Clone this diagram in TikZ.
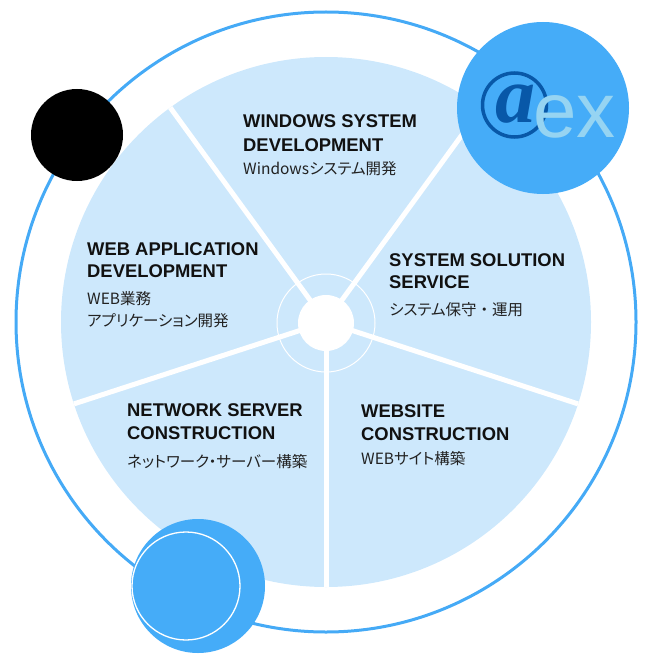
\documentclass[tikz,border=0pt]{standalone}
\usepackage{fontspec}
\usetikzlibrary{calc}
\setmainfont{Liberation Sans}
\newfontfamily\jpfont[RawFeature=+palt]{Noto Sans CJK JP}
\newfontfamily\jpfull{Noto Sans CJK JP}
\newfontfamily\logoserif{Liberation Serif}
\definecolor{ringblue}{RGB}{69,170,246}
\definecolor{pieblue}{RGB}{205,232,252}
\definecolor{dotblue}{RGB}{69,172,248}
\definecolor{logodark}{RGB}{8,88,168}
\definecolor{logolight}{RGB}{150,212,242}
\definecolor{titletext}{RGB}{17,17,17}
\definecolor{subtext}{RGB}{34,34,34}
\tikzset{
  ttl/.style={anchor=base west, inner sep=0pt, text=titletext, font=\fontsize{18.4}{22}\selectfont\bfseries},
  sub/.style={anchor=base west, inner sep=0pt, text=subtext, font=\fontsize{15.5}{18}\selectfont\jpfont},
  divider/.style={white, line width=5pt},
}
\begin{document}
\begin{tikzpicture}[x=1pt,y=-1pt]
\useasboundingbox (0,0) rectangle (652,658);
\coordinate (c) at (326,322);
% outer ring
\draw[ringblue, line width=3pt] (c) circle[radius=310pt];
% pie
\fill[pieblue] (c) circle[radius=265pt];
\foreach \a/\n in {90/d1,18/d2,-54/d3,-126/d4,162/d5}{
  \coordinate (\n) at ($(c)+(\a:265)$);
  \draw[divider] (c) -- (\n);
}
% centre
\node[circle, draw=white, line width=1pt, minimum size=98pt, inner sep=0pt] (cring) at (326,323) {};
\node[circle, fill=white, minimum size=56pt, inner sep=0pt] (cdisc) at (326,323) {};
% texts
\node[ttl] (w1) at (243,128) {WINDOWS SYSTEM};
\node[ttl] (w2) at (243,151) {DEVELOPMENT};
\node[sub] (w3) at (243,174) {Windowsシステム開発};
\node[ttl] (a1) at (87,255) {WEB APPLICATION};
\node[ttl] (a2) at (87,277) {DEVELOPMENT};
\node[sub] (a3) at (87,304) {WEB業務};
\node[sub] (a4) at (87,326) {アプリケーション開発};
\node[ttl] (s1) at (389,266) {SYSTEM SOLUTION};
\node[ttl] (s2) at (389,288) {SERVICE};
\node[sub] (s3) at (389,315) {システム保守{\jpfull ・}運用};
\node[ttl] (n1) at (127,416) {NETWORK SERVER};
\node[ttl] (n2) at (127,439) {CONSTRUCTION};
\node[sub] (n3) at (127,467) {ネットワーク・サーバー構築};
\node[ttl] (b1) at (361,417) {WEBSITE};
\node[ttl] (b2) at (361,440) {CONSTRUCTION};
\node[sub] (b3) at (361,464) {WEBサイト構築};
% decorative circles
\node[circle, fill=black, minimum size=92pt, inner sep=0pt] (blk) at (77,135) {};
\node[circle, fill=dotblue, minimum size=172pt, inner sep=0pt] (logo) at (543,108) {};
\node[circle, fill=dotblue, minimum size=134pt, inner sep=0pt] (bl) at (198,586) {};
\node[circle, draw=white, line width=1.3pt, minimum size=108pt, inner sep=0pt] (blring) at (186,586) {};
% logo
\node[circle, draw=logodark, line width=3.5pt, minimum size=64pt, inner sep=0pt] (atring) at (514.5,105) {};
\node[anchor=base, inner sep=0pt, text=logodark, font=\fontsize{80}{80}\selectfont\logoserif\bfseries\itshape] (at) at (515,123) {a};
\node[anchor=base west, inner sep=0pt, text=logolight, font=\fontsize{78}{78}\selectfont] (ex) at (533,137) {ex};
\end{tikzpicture}
\end{document}
